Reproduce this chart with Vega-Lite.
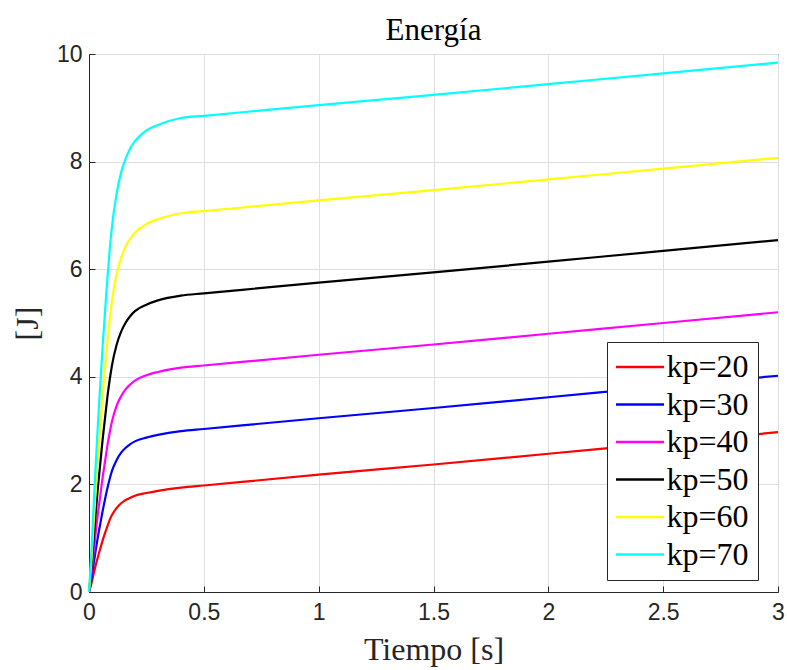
{
  "$schema": "https://vega.github.io/schema/vega-lite/v6.json",
  "autosize": "none",
  "width": 689,
  "height": 538,
  "padding": {"left": 89, "top": 54, "right": 9, "bottom": 78},
  "background": "white",
  "title": {"text": "Energía", "font": "Liberation Serif", "fontSize": 31, "fontWeight": "normal", "color": "#000000", "offset": -4, "anchor": "middle"},
  "config": {
    "view": {"stroke": "#262626", "strokeWidth": 1},
    "axis": {
      "domainColor": "#262626", "tickColor": "#262626", "gridColor": "#dfdfdf",
      "labelFont": "Liberation Sans", "labelFontSize": 23, "labelColor": "#262626", "labelFlush": false,
      "titleFont": "Liberation Serif", "titleFontSize": 32, "titleFontWeight": "normal", "titleColor": "#262626",
      "tickSize": -6
    }
  },
  "data": {"values": [
    {"t":0,"E":0,"s":"kp=20"},{"t":0.01,"E":0.15,"s":"kp=20"},{"t":0.02,"E":0.33,"s":"kp=20"},{"t":0.03,"E":0.51,"s":"kp=20"},{"t":0.04,"E":0.67,"s":"kp=20"},{"t":0.05,"E":0.82,"s":"kp=20"},{"t":0.06,"E":0.97,"s":"kp=20"},{"t":0.07,"E":1.10,"s":"kp=20"},{"t":0.08,"E":1.22,"s":"kp=20"},{"t":0.09,"E":1.34,"s":"kp=20"},{"t":0.1,"E":1.43,"s":"kp=20"},{"t":0.12,"E":1.56,"s":"kp=20"},{"t":0.14,"E":1.65,"s":"kp=20"},{"t":0.16,"E":1.71,"s":"kp=20"},{"t":0.18,"E":1.75,"s":"kp=20"},{"t":0.2,"E":1.79,"s":"kp=20"},{"t":0.25,"E":1.84,"s":"kp=20"},{"t":0.3,"E":1.88,"s":"kp=20"},{"t":0.4,"E":1.94,"s":"kp=20"},{"t":0.5,"E":1.98,"s":"kp=20"},{"t":1,"E":2.18,"s":"kp=20"},{"t":1.5,"E":2.37,"s":"kp=20"},{"t":2,"E":2.57,"s":"kp=20"},{"t":2.5,"E":2.77,"s":"kp=20"},{"t":3,"E":2.97,"s":"kp=20"},
    {"t":0,"E":0,"s":"kp=30"},{"t":0.01,"E":0.23,"s":"kp=30"},{"t":0.02,"E":0.52,"s":"kp=30"},{"t":0.03,"E":0.80,"s":"kp=30"},{"t":0.04,"E":1.06,"s":"kp=30"},{"t":0.05,"E":1.29,"s":"kp=30"},{"t":0.06,"E":1.52,"s":"kp=30"},{"t":0.07,"E":1.73,"s":"kp=30"},{"t":0.08,"E":1.93,"s":"kp=30"},{"t":0.09,"E":2.10,"s":"kp=30"},{"t":0.1,"E":2.25,"s":"kp=30"},{"t":0.12,"E":2.45,"s":"kp=30"},{"t":0.14,"E":2.59,"s":"kp=30"},{"t":0.16,"E":2.68,"s":"kp=30"},{"t":0.18,"E":2.75,"s":"kp=30"},{"t":0.2,"E":2.80,"s":"kp=30"},{"t":0.25,"E":2.87,"s":"kp=30"},{"t":0.3,"E":2.92,"s":"kp=30"},{"t":0.4,"E":2.99,"s":"kp=30"},{"t":0.5,"E":3.03,"s":"kp=30"},{"t":1,"E":3.23,"s":"kp=30"},{"t":1.5,"E":3.42,"s":"kp=30"},{"t":2,"E":3.62,"s":"kp=30"},{"t":2.5,"E":3.82,"s":"kp=30"},{"t":3,"E":4.02,"s":"kp=30"},
    {"t":0,"E":0,"s":"kp=40"},{"t":0.01,"E":0.33,"s":"kp=40"},{"t":0.02,"E":0.73,"s":"kp=40"},{"t":0.03,"E":1.14,"s":"kp=40"},{"t":0.04,"E":1.50,"s":"kp=40"},{"t":0.05,"E":1.82,"s":"kp=40"},{"t":0.06,"E":2.15,"s":"kp=40"},{"t":0.07,"E":2.43,"s":"kp=40"},{"t":0.08,"E":2.72,"s":"kp=40"},{"t":0.09,"E":2.96,"s":"kp=40"},{"t":0.1,"E":3.17,"s":"kp=40"},{"t":0.12,"E":3.46,"s":"kp=40"},{"t":0.14,"E":3.64,"s":"kp=40"},{"t":0.16,"E":3.77,"s":"kp=40"},{"t":0.18,"E":3.86,"s":"kp=40"},{"t":0.2,"E":3.93,"s":"kp=40"},{"t":0.25,"E":4.03,"s":"kp=40"},{"t":0.3,"E":4.09,"s":"kp=40"},{"t":0.4,"E":4.17,"s":"kp=40"},{"t":0.5,"E":4.21,"s":"kp=40"},{"t":1,"E":4.41,"s":"kp=40"},{"t":1.5,"E":4.60,"s":"kp=40"},{"t":2,"E":4.80,"s":"kp=40"},{"t":2.5,"E":5.00,"s":"kp=40"},{"t":3,"E":5.20,"s":"kp=40"},
    {"t":0,"E":0,"s":"kp=50"},{"t":0.01,"E":0.43,"s":"kp=50"},{"t":0.02,"E":0.97,"s":"kp=50"},{"t":0.03,"E":1.51,"s":"kp=50"},{"t":0.04,"E":2.00,"s":"kp=50"},{"t":0.05,"E":2.43,"s":"kp=50"},{"t":0.06,"E":2.86,"s":"kp=50"},{"t":0.07,"E":3.24,"s":"kp=50"},{"t":0.08,"E":3.62,"s":"kp=50"},{"t":0.09,"E":3.94,"s":"kp=50"},{"t":0.1,"E":4.21,"s":"kp=50"},{"t":0.12,"E":4.59,"s":"kp=50"},{"t":0.14,"E":4.84,"s":"kp=50"},{"t":0.16,"E":5.01,"s":"kp=50"},{"t":0.18,"E":5.13,"s":"kp=50"},{"t":0.2,"E":5.22,"s":"kp=50"},{"t":0.25,"E":5.34,"s":"kp=50"},{"t":0.3,"E":5.42,"s":"kp=50"},{"t":0.4,"E":5.51,"s":"kp=50"},{"t":0.5,"E":5.55,"s":"kp=50"},{"t":1,"E":5.75,"s":"kp=50"},{"t":1.5,"E":5.94,"s":"kp=50"},{"t":2,"E":6.14,"s":"kp=50"},{"t":2.5,"E":6.34,"s":"kp=50"},{"t":3,"E":6.54,"s":"kp=50"},
    {"t":0,"E":0,"s":"kp=60"},{"t":0.01,"E":0.55,"s":"kp=60"},{"t":0.02,"E":1.25,"s":"kp=60"},{"t":0.03,"E":1.94,"s":"kp=60"},{"t":0.04,"E":2.56,"s":"kp=60"},{"t":0.05,"E":3.12,"s":"kp=60"},{"t":0.06,"E":3.67,"s":"kp=60"},{"t":0.07,"E":4.16,"s":"kp=60"},{"t":0.08,"E":4.64,"s":"kp=60"},{"t":0.09,"E":5.06,"s":"kp=60"},{"t":0.1,"E":5.41,"s":"kp=60"},{"t":0.12,"E":5.90,"s":"kp=60"},{"t":0.14,"E":6.21,"s":"kp=60"},{"t":0.16,"E":6.43,"s":"kp=60"},{"t":0.18,"E":6.57,"s":"kp=60"},{"t":0.2,"E":6.68,"s":"kp=60"},{"t":0.25,"E":6.84,"s":"kp=60"},{"t":0.3,"E":6.93,"s":"kp=60"},{"t":0.4,"E":7.04,"s":"kp=60"},{"t":0.5,"E":7.08,"s":"kp=60"},{"t":1,"E":7.28,"s":"kp=60"},{"t":1.5,"E":7.47,"s":"kp=60"},{"t":2,"E":7.67,"s":"kp=60"},{"t":2.5,"E":7.87,"s":"kp=60"},{"t":3,"E":8.07,"s":"kp=60"},
    {"t":0,"E":0,"s":"kp=70"},{"t":0.01,"E":0.70,"s":"kp=70"},{"t":0.02,"E":1.57,"s":"kp=70"},{"t":0.03,"E":2.43,"s":"kp=70"},{"t":0.04,"E":3.22,"s":"kp=70"},{"t":0.05,"E":3.91,"s":"kp=70"},{"t":0.06,"E":4.61,"s":"kp=70"},{"t":0.07,"E":5.22,"s":"kp=70"},{"t":0.08,"E":5.83,"s":"kp=70"},{"t":0.09,"E":6.35,"s":"kp=70"},{"t":0.1,"E":6.79,"s":"kp=70"},{"t":0.12,"E":7.40,"s":"kp=70"},{"t":0.14,"E":7.80,"s":"kp=70"},{"t":0.16,"E":8.06,"s":"kp=70"},{"t":0.18,"E":8.25,"s":"kp=70"},{"t":0.2,"E":8.38,"s":"kp=70"},{"t":0.25,"E":8.58,"s":"kp=70"},{"t":0.3,"E":8.68,"s":"kp=70"},{"t":0.4,"E":8.81,"s":"kp=70"},{"t":0.5,"E":8.85,"s":"kp=70"},{"t":1,"E":9.05,"s":"kp=70"},{"t":1.5,"E":9.24,"s":"kp=70"},{"t":2,"E":9.44,"s":"kp=70"},{"t":2.5,"E":9.64,"s":"kp=70"},{"t":3,"E":9.84,"s":"kp=70"}
  ]},
  "mark": {"type": "line", "strokeWidth": 2.2, "interpolate": "monotone"},
  "encoding": {
    "x": {"field": "t", "type": "quantitative", "scale": {"domain": [0, 3], "nice": false},
          "axis": {"title": "Tiempo [s]", "values": [0, 0.5, 1, 1.5, 2, 2.5, 3], "format": "~g", "labelFont": "Liberation Sans", "labelFontSize": 23, "labelPadding": 15, "titlePadding": 10}},
    "y": {"field": "E", "type": "quantitative", "scale": {"domain": [0, 10], "nice": false},
          "axis": {"title": "[J]", "values": [0, 2, 4, 6, 8, 10], "labelFont": "Liberation Sans", "labelFontSize": 23, "labelPadding": 13, "titlePadding": 12}},
    "color": {"field": "s", "type": "nominal",
      "scale": {"domain": ["kp=20","kp=30","kp=40","kp=50","kp=60","kp=70"], "range": ["#FF0000","#0000FF","#FF00FF","#000000","#FFFF00","#00FFFF"]},
      "legend": {"title": null, "orient": "none", "legendX": 518, "legendY": 288,
        "symbolType": "M-2,0H2", "symbolSize": 576, "symbolStrokeWidth": 2.5, "symbolOffset": 8,
        "labelFont": "Liberation Serif", "labelFontSize": 32, "labelColor": "#000000",
        "strokeColor": "#262626", "fillColor": "white", "padding": 9, "rowPadding": 5.5, "labelOffset": 10.5}}
  }
}
